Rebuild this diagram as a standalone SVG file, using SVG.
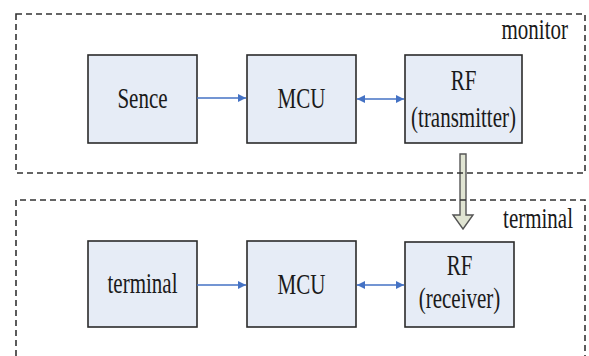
<svg xmlns="http://www.w3.org/2000/svg" width="589" height="356" viewBox="0 0 589 356">
<defs>
<style>
.frame{fill:none;stroke:#333;stroke-width:1.6;stroke-dasharray:6 4}
.box{fill:#E6ECF6;stroke:#2b2b2b;stroke-width:1.6}
.conn{stroke:#4472C4;stroke-width:1.6;fill:none}
text{font-family:"Liberation Serif","Times New Roman",serif;font-size:21px;fill:#1a1a1a}
.t{text-anchor:middle}
.lbl{text-anchor:end}
</style>
<marker id="ah" viewBox="0 0 10 10" refX="10" refY="5" markerWidth="8" markerHeight="8" markerUnits="userSpaceOnUse" orient="auto-start-reverse">
<path d="M0,0 L10,5 L0,10 Z" fill="#4472C4"/>
</marker>
</defs>
<rect fill="#fff" width="589" height="356"/>
<g id="transfer">
<path d="M460,154 H466 V215 H473 L463,229 L453,215 H460 Z" fill="#E0E4D2" stroke="#555" stroke-width="1.4"/>
</g>
<g id="monitor">
<rect class="frame" x="16" y="14" width="569" height="159"/>
<text class="lbl" transform="translate(568,39) scale(1,1.4)">monitor</text>
</g>
<g id="terminal-group">
<path class="frame" d="M16,356 V200 H585 V356"/>
<text class="lbl" transform="translate(573,228) scale(1,1.4)">terminal</text>
</g>
<g id="sence">
<rect class="box" x="88" y="55" width="109" height="88"/>
<text class="t" transform="translate(142.5,108) scale(1,1.45)">Sence</text>
</g>
<g id="mcu1">
<rect class="box" x="247" y="55" width="109" height="88"/>
<text class="t" transform="translate(301.5,108) scale(1,1.45)">MCU</text>
</g>
<g id="rf-tx">
<rect class="box" x="405" y="55" width="117" height="88"/>
<text class="t" transform="translate(463.5,90) scale(1,1.4)">RF</text>
<text class="t" transform="translate(463.5,127) scale(1,1.4)">(transmitter)</text>
</g>
<g id="terminal">
<rect class="box" x="88" y="241" width="109" height="86"/>
<text class="t" transform="translate(142.5,293) scale(1,1.45)">terminal</text>
</g>
<g id="mcu2">
<rect class="box" x="247" y="241" width="109" height="86"/>
<text class="t" transform="translate(301.5,294) scale(1,1.45)">MCU</text>
</g>
<g id="rf-rx">
<rect class="box" x="405" y="242" width="109" height="85"/>
<text class="t" transform="translate(459.5,275) scale(1,1.4)">RF</text>
<text class="t" transform="translate(459.5,308) scale(1,1.4)">(receiver)</text>
</g>
<g id="connectors">
<line class="conn" x1="197" y1="98" x2="246" y2="98" marker-end="url(#ah)"/>
<line class="conn" x1="357" y1="99" x2="404" y2="99" marker-start="url(#ah)" marker-end="url(#ah)"/>
<line class="conn" x1="197" y1="285" x2="246" y2="285" marker-end="url(#ah)"/>
<line class="conn" x1="357" y1="285" x2="404" y2="285" marker-start="url(#ah)" marker-end="url(#ah)"/>
</g>
</svg>
